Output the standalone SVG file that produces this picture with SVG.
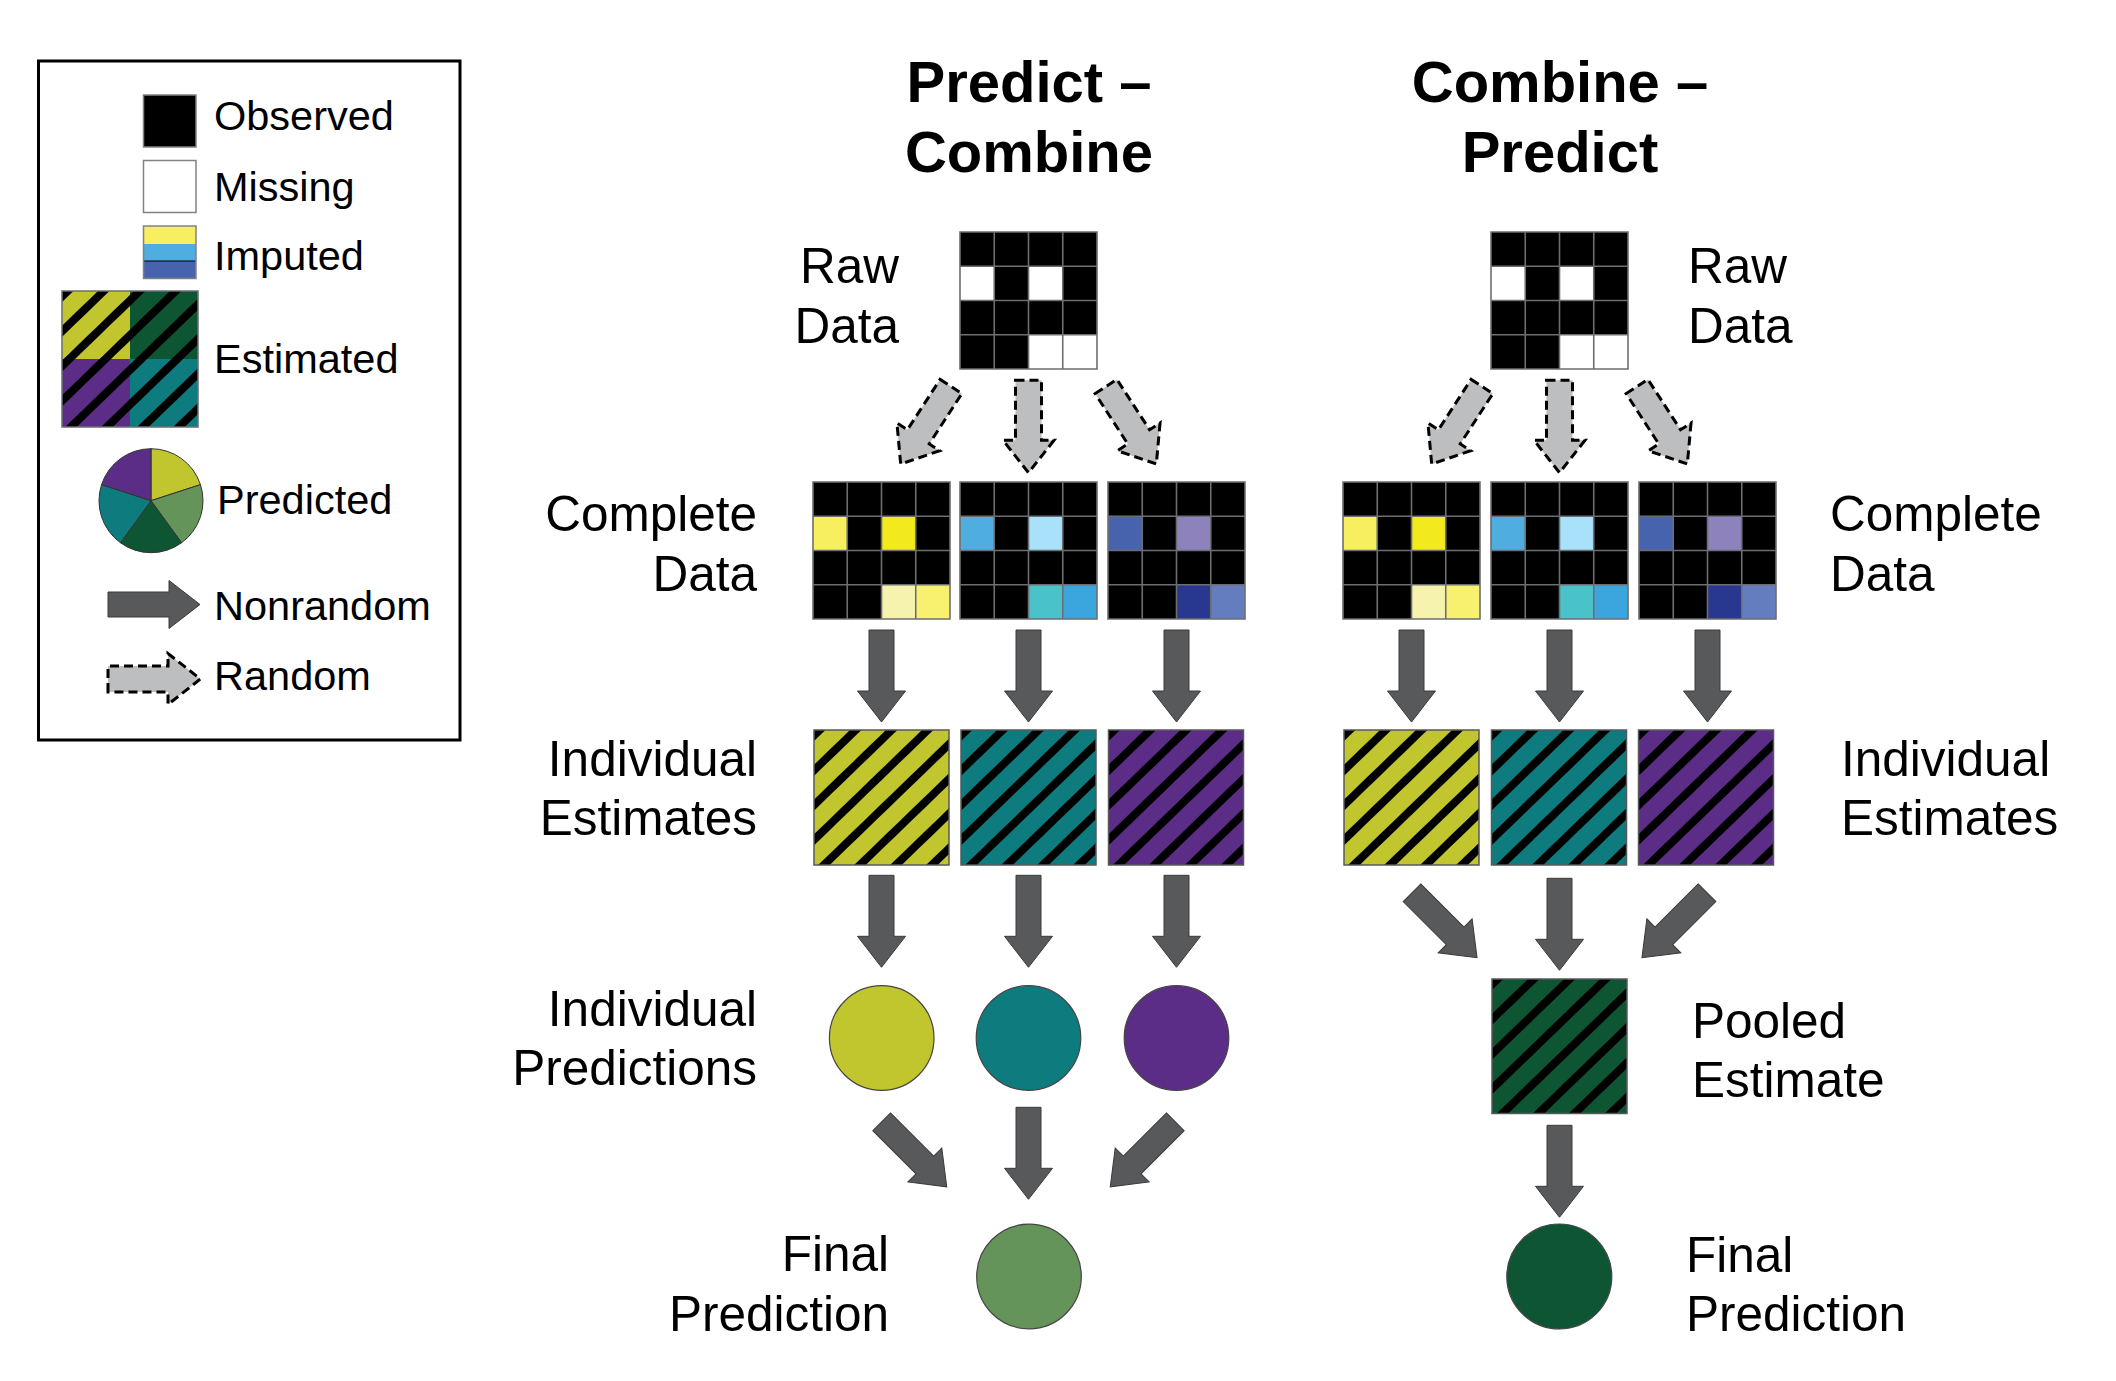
<svg xmlns="http://www.w3.org/2000/svg" xmlns:xlink="http://www.w3.org/1999/xlink" width="2116" height="1381" viewBox="0 0 2116 1381">
<style>
.lbl{font-family:"Liberation Sans",Arial,Helvetica,sans-serif;font-size:49.5px;fill:#000}
.leg{font-family:"Liberation Sans",Arial,Helvetica,sans-serif;font-size:41.5px;fill:#000}
.ttl{font-family:"Liberation Sans",Arial,Helvetica,sans-serif;font-size:58px;font-weight:bold;fill:#000;text-anchor:middle}
.end{text-anchor:end}
.nr{fill:#58595B;stroke:#3a3a3c;stroke-width:1}
.rd{fill:#BCBEC0;stroke:#000;stroke-width:3;stroke-dasharray:9 5}
.cir{stroke:#444;stroke-width:1.2}
.est{stroke:#58595B;stroke-width:1.5}
</style>
<defs>
<pattern id="hatch" patternUnits="userSpaceOnUse" width="25" height="25" patternTransform="rotate(46)">
<rect x="0" y="0" width="8" height="25" fill="#000"/>
</pattern>
<path id="gridlines" d="M0,0H137V137H0Z M34.25,0V137 M68.5,0V137 M102.75,0V137 M0,34.25H137 M0,68.5H137 M0,102.75H137" fill="none" stroke="#6D6E71" stroke-width="1.6"/>
<rect id="gridbg" width="137" height="137" fill="#000"/>
<path id="arrNR" d="M-12.5,0H12.5V61H24L0,92L-24,61H-12.5Z"/>
<path id="arrRD" d="M-13,0H13V60H25.5L0,92.4L-25.5,60H-13Z"/>
</defs>
<rect width="2116" height="1381" fill="#fff"/>

<!-- Legend -->
<g id="legend">
<rect x="38.5" y="61" width="421.5" height="679" fill="#fff" stroke="#000" stroke-width="3"/>
<rect x="143.5" y="95" width="52.5" height="52" fill="#000" stroke="#808285" stroke-width="1.5"/>
<text class="leg" x="214" y="130">Observed</text>
<rect x="143.5" y="160.5" width="52.5" height="52" fill="#fff" stroke="#808285" stroke-width="1.5"/>
<text class="leg" x="214" y="200.7">Missing</text>
<rect x="143.5" y="226" width="52.5" height="18" fill="#F7EF5F"/>
<rect x="143.5" y="244" width="52.5" height="17" fill="#4FADE0"/>
<rect x="143.5" y="261" width="52.5" height="17.5" fill="#4863AE"/>
<line x1="143.5" y1="261" x2="196" y2="261" stroke="#000" stroke-width="1.2"/>
<rect x="143.5" y="226" width="52.5" height="52.5" fill="none" stroke="#808285" stroke-width="1.5"/>
<text class="leg" x="214" y="270">Imputed</text>
<g transform="translate(62,291)">
<rect x="0" y="0" width="68" height="68" fill="#C1C62F"/>
<rect x="68" y="0" width="68" height="68" fill="#0E5633"/>
<rect x="0" y="68" width="68" height="68" fill="#5B2D86"/>
<rect x="68" y="68" width="68" height="68" fill="#0E7C7E"/>
<rect x="0" y="0" width="136" height="136" fill="url(#hatch)" stroke="#6D6E71" stroke-width="1.5"/>
</g>
<text class="leg" x="214" y="373.3">Estimated</text>
<g stroke="#333" stroke-width="1">
<path d="M151,500.7L151,448.7A52,52 0 0 1 200.46,484.63Z" fill="#C1C62F"/>
<path d="M151,500.7L200.46,484.63A52,52 0 0 1 181.57,542.77Z" fill="#64945A"/>
<path d="M151,500.7L181.57,542.77A52,52 0 0 1 120.43,542.77Z" fill="#0E5633"/>
<path d="M151,500.7L120.43,542.77A52,52 0 0 1 101.54,484.63Z" fill="#0E7C7E"/>
<path d="M151,500.7L101.54,484.63A52,52 0 0 1 151,448.7Z" fill="#5B2D86"/>
</g>
<text class="leg" x="217" y="514.3">Predicted</text>
<use href="#arrNR" class="nr" transform="translate(108,604.5) rotate(-90)"/>
<text class="leg" x="214" y="620">Nonrandom</text>
<use href="#arrRD" class="rd" transform="translate(108,679) rotate(-90)"/>
<text class="leg" x="214" y="690">Random</text>
</g>

<!-- Titles -->
<g id="title-left"><text class="ttl" x="1029" y="101.7">Predict –</text><text class="ttl" x="1029" y="171.7">Combine</text></g>
<g id="title-right"><text class="ttl" x="1560" y="101.7">Combine –</text><text class="ttl" x="1560" y="171.7">Predict</text></g>

<!-- Labels left -->
<g id="labels-left">
<text class="lbl end" x="899" y="282.7">Raw</text>
<text class="lbl end" x="899" y="343">Data</text>
<text class="lbl end" x="757" y="530.7">Complete</text>
<text class="lbl end" x="757" y="590.7">Data</text>
<text class="lbl end" x="757" y="776">Individual</text>
<text class="lbl end" x="757" y="835">Estimates</text>
<text class="lbl end" x="757" y="1026">Individual</text>
<text class="lbl end" x="757" y="1085">Predictions</text>
<text class="lbl end" x="889" y="1271">Final</text>
<text class="lbl end" x="889" y="1330.7">Prediction</text>
</g>
<!-- Labels right -->
<g id="labels-right">
<text class="lbl" x="1688" y="282.7">Raw</text>
<text class="lbl" x="1688" y="343">Data</text>
<text class="lbl" x="1830" y="531">Complete</text>
<text class="lbl" x="1830" y="591">Data</text>
<text class="lbl" x="1841" y="776">Individual</text>
<text class="lbl" x="1841" y="835">Estimates</text>
<text class="lbl" x="1692" y="1037.7">Pooled</text>
<text class="lbl" x="1692" y="1097.3">Estimate</text>
<text class="lbl" x="1686" y="1271.7">Final</text>
<text class="lbl" x="1686" y="1331">Prediction</text>
</g>

<!-- Raw data -->
<g id="raw-left" transform="translate(960,232)">
<use href="#gridbg"/>
<rect x="0" y="34.25" width="34.25" height="34.25" fill="#fff"/>
<rect x="68.5" y="34.25" width="34.25" height="34.25" fill="#fff"/>
<rect x="68.5" y="102.75" width="68.5" height="34.25" fill="#fff"/>
<use href="#gridlines"/>
</g>
<g id="raw-right" transform="translate(1491,232)">
<use href="#gridbg"/>
<rect x="0" y="34.25" width="34.25" height="34.25" fill="#fff"/>
<rect x="68.5" y="34.25" width="34.25" height="34.25" fill="#fff"/>
<rect x="68.5" y="102.75" width="68.5" height="34.25" fill="#fff"/>
<use href="#gridlines"/>
</g>

<!-- Complete data left -->
<g id="complete-left-1" transform="translate(813,482)">
<use href="#gridbg"/>
<rect x="0" y="34.25" width="34.25" height="34.25" fill="#F7EF5F"/>
<rect x="68.5" y="34.25" width="34.25" height="34.25" fill="#F2EA1D"/>
<rect x="68.5" y="102.75" width="34.25" height="34.25" fill="#F5F3AE"/>
<rect x="102.75" y="102.75" width="34.25" height="34.25" fill="#F8F06F"/>
<use href="#gridlines"/>
</g>
<g id="complete-left-2" transform="translate(960,482)">
<use href="#gridbg"/>
<rect x="0" y="34.25" width="34.25" height="34.25" fill="#4FADE0"/>
<rect x="68.5" y="34.25" width="34.25" height="34.25" fill="#A9E0FA"/>
<rect x="68.5" y="102.75" width="34.25" height="34.25" fill="#4AC2CA"/>
<rect x="102.75" y="102.75" width="34.25" height="34.25" fill="#3BA5DE"/>
<use href="#gridlines"/>
</g>
<g id="complete-left-3" transform="translate(1108,482)">
<use href="#gridbg"/>
<rect x="0" y="34.25" width="34.25" height="34.25" fill="#4863AE"/>
<rect x="68.5" y="34.25" width="34.25" height="34.25" fill="#8E82BD"/>
<rect x="68.5" y="102.75" width="34.25" height="34.25" fill="#283891"/>
<rect x="102.75" y="102.75" width="34.25" height="34.25" fill="#647DBF"/>
<use href="#gridlines"/>
</g>
<!-- Complete data right -->
<g id="complete-right-1" transform="translate(1343,482)">
<use href="#gridbg"/>
<rect x="0" y="34.25" width="34.25" height="34.25" fill="#F7EF5F"/>
<rect x="68.5" y="34.25" width="34.25" height="34.25" fill="#F2EA1D"/>
<rect x="68.5" y="102.75" width="34.25" height="34.25" fill="#F5F3AE"/>
<rect x="102.75" y="102.75" width="34.25" height="34.25" fill="#F8F06F"/>
<use href="#gridlines"/>
</g>
<g id="complete-right-2" transform="translate(1491,482)">
<use href="#gridbg"/>
<rect x="0" y="34.25" width="34.25" height="34.25" fill="#4FADE0"/>
<rect x="68.5" y="34.25" width="34.25" height="34.25" fill="#A9E0FA"/>
<rect x="68.5" y="102.75" width="34.25" height="34.25" fill="#4AC2CA"/>
<rect x="102.75" y="102.75" width="34.25" height="34.25" fill="#3BA5DE"/>
<use href="#gridlines"/>
</g>
<g id="complete-right-3" transform="translate(1639,482)">
<use href="#gridbg"/>
<rect x="0" y="34.25" width="34.25" height="34.25" fill="#4863AE"/>
<rect x="68.5" y="34.25" width="34.25" height="34.25" fill="#8E82BD"/>
<rect x="68.5" y="102.75" width="34.25" height="34.25" fill="#283891"/>
<rect x="102.75" y="102.75" width="34.25" height="34.25" fill="#647DBF"/>
<use href="#gridlines"/>
</g>

<!-- Individual estimates -->
<g id="est-left-1" transform="translate(814,730)"><rect width="135" height="135" fill="#C1C62F"/><rect class="est" width="135" height="135" fill="url(#hatch)"/></g>
<g id="est-left-2" transform="translate(961,730)"><rect width="135" height="135" fill="#0E7C7E"/><rect class="est" width="135" height="135" fill="url(#hatch)"/></g>
<g id="est-left-3" transform="translate(1108.5,730)"><rect width="135" height="135" fill="#5B2D86"/><rect class="est" width="135" height="135" fill="url(#hatch)"/></g>
<g id="est-right-1" transform="translate(1344,730)"><rect width="135" height="135" fill="#C1C62F"/><rect class="est" width="135" height="135" fill="url(#hatch)"/></g>
<g id="est-right-2" transform="translate(1491.5,730)"><rect width="135" height="135" fill="#0E7C7E"/><rect class="est" width="135" height="135" fill="url(#hatch)"/></g>
<g id="est-right-3" transform="translate(1638.5,730)"><rect width="135" height="135" fill="#5B2D86"/><rect class="est" width="135" height="135" fill="url(#hatch)"/></g>
<g id="pooled" transform="translate(1492,979)"><rect width="135" height="134.5" fill="#0E5633"/><rect class="est" width="135" height="134.5" fill="url(#hatch)"/></g>

<!-- Predictions -->
<g id="pred-1"><circle class="cir" cx="881.7" cy="1038" r="52.3" fill="#C1C62F"/></g>
<g id="pred-2"><circle class="cir" cx="1028.5" cy="1038" r="52.3" fill="#0E7C7E"/></g>
<g id="pred-3"><circle class="cir" cx="1176.5" cy="1038" r="52.3" fill="#5B2D86"/></g>
<g id="final-left"><circle class="cir" cx="1029" cy="1276.5" r="52.3" fill="#64945A"/></g>
<g id="final-right"><circle class="cir" cx="1559.3" cy="1276.5" r="52.5" fill="#0E5633"/></g>

<!-- Connectors -->
<g id="connectors">
<use href="#arrRD" class="rd" transform="translate(951,386.5) rotate(33)"/>
<use href="#arrRD" class="rd" transform="translate(1028.5,380.3)"/>
<use href="#arrRD" class="rd" transform="translate(1106,386.5) rotate(-33)"/>
<use href="#arrRD" class="rd" transform="translate(1482,386.5) rotate(33)"/>
<use href="#arrRD" class="rd" transform="translate(1559.5,380.3)"/>
<use href="#arrRD" class="rd" transform="translate(1637,386.5) rotate(-33)"/>

<use href="#arrNR" class="nr" transform="translate(881.5,630)"/>
<use href="#arrNR" class="nr" transform="translate(1028.5,630)"/>
<use href="#arrNR" class="nr" transform="translate(1176.5,630)"/>
<use href="#arrNR" class="nr" transform="translate(1411.5,630)"/>
<use href="#arrNR" class="nr" transform="translate(1559.5,630)"/>
<use href="#arrNR" class="nr" transform="translate(1707.5,630)"/>

<use href="#arrNR" class="nr" transform="translate(881.5,875.3)"/>
<use href="#arrNR" class="nr" transform="translate(1028.5,875.3)"/>
<use href="#arrNR" class="nr" transform="translate(1176.5,875.3)"/>

<use href="#arrNR" class="nr" transform="translate(1412,892.7) rotate(-45)"/>
<use href="#arrNR" class="nr" transform="translate(1559.5,878.3)"/>
<use href="#arrNR" class="nr" transform="translate(1707,892.7) rotate(45)"/>

<use href="#arrNR" class="nr" transform="translate(881.7,1121.8) rotate(-45)"/>
<use href="#arrNR" class="nr" transform="translate(1028.5,1107.3)"/>
<use href="#arrNR" class="nr" transform="translate(1175.3,1121.8) rotate(45)"/>

<use href="#arrNR" class="nr" transform="translate(1559.5,1125.3)"/>
</g>
</svg>
